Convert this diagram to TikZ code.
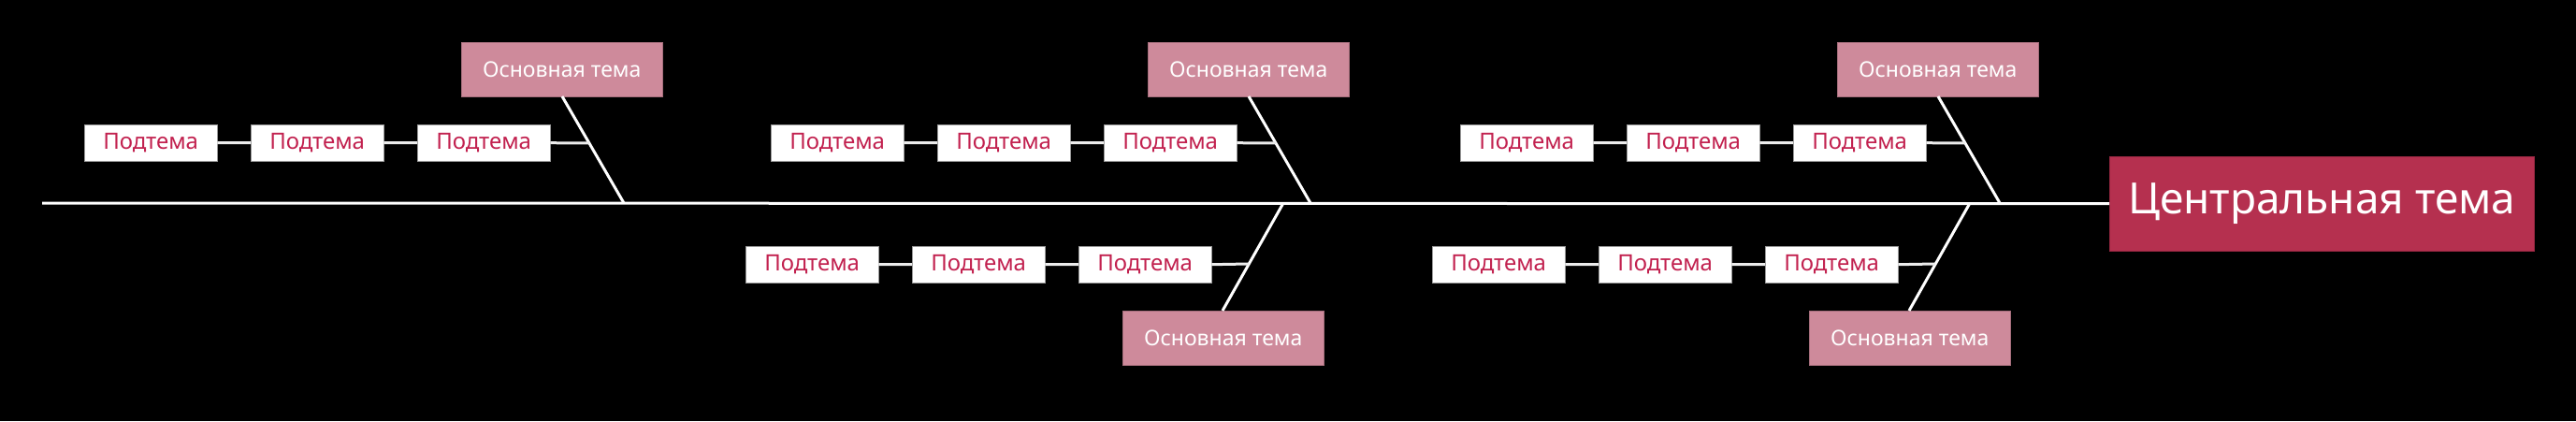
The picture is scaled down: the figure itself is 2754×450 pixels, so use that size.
\documentclass[tikz,border=0pt]{standalone}
\usepackage{fontspec}
\setmainfont{Noto Sans}
\definecolor{mainc}{HTML}{CE8A9B}
\definecolor{cenc}{HTML}{B5304F}
\definecolor{subt}{HTML}{C2214F}
\begin{document}
\begin{tikzpicture}[x=1pt,y=-1pt,
  subbox/.style={draw=gray!80,fill=white,text=subt,minimum width=142pt,minimum height=39pt,anchor=north west,inner sep=0pt,font=\fontsize{24}{28}\selectfont},
  mainbox/.style={draw=mainc!80!black,fill=mainc,text=white,minimum width=215pt,minimum height=58pt,anchor=north west,inner sep=0pt,font=\fontsize{23}{28}\selectfont},
  bone/.style={draw=white,line width=3pt},
  subline/.style={draw=white!85!gray,line width=3pt}]
\fill[black] (0,0) rectangle (2754,450);
\useasboundingbox (0,0) rectangle (2754,450);
\node[draw=cenc!80!black,fill=cenc,text=white,minimum width=454pt,minimum height=101pt,anchor=north west,inner sep=0pt,font=\fontsize{46}{52}\selectfont] (c) at (2255,167) {Центральная тема};
\coordinate (s) at (45,217);
\draw[bone] (s) -- (c.west);
\foreach \i/\b in {1/493,2/1227,3/1964}{
  \node[mainbox] (t\i) at (\b,45) {Основная тема};
  \coordinate (tb\i) at (\b+174,217);
  \coordinate (tt\i) at (\b+108,103);
  \draw[bone] (tt\i) -- (tb\i);
  \node[subbox] (ta\i) at (\b-403,133) {Подтема};
  \node[subbox] (tm\i) at (\b-225,133) {Подтема};
  \node[subbox] (tz\i) at (\b-47,133) {Подтема};
  \coordinate (tj\i) at (\b+137,153);
  \draw[subline] (ta\i.east) -- (tm\i.west) (tm\i.east) -- (tz\i.west) (tz\i.east) -- (tj\i);
}
\foreach \i/\b in {1/1200,2/1934}{
  \node[mainbox] (b\i) at (\b,332) {Основная тема};
  \coordinate (bb\i) at (\b+172,217);
  \coordinate (bt\i) at (\b+107,332);
  \draw[bone] (bt\i) -- (bb\i);
  \node[subbox] (ba\i) at (\b-403,263) {Подтема};
  \node[subbox] (bm\i) at (\b-225,263) {Подтема};
  \node[subbox] (bz\i) at (\b-47,263) {Подтема};
  \coordinate (bj\i) at (\b+135,282);
  \draw[subline] (ba\i.east) -- (bm\i.west) (bm\i.east) -- (bz\i.west) (bz\i.east) -- (bj\i);
}
\end{tikzpicture}
\end{document}
